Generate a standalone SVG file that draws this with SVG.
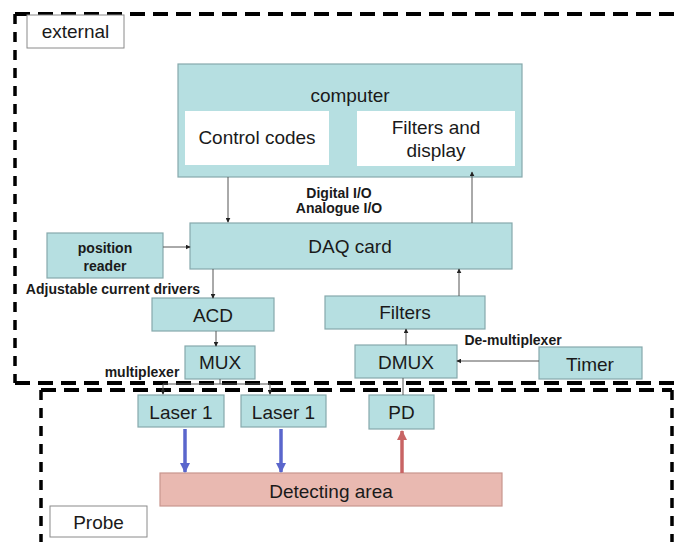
<svg xmlns="http://www.w3.org/2000/svg" width="678" height="542" viewBox="0 0 678 542">
<style>
.bg{fill:#ffffff}
.box{fill:#b6dfe1;stroke:#86a9ac;stroke-width:1.2}
.wbox{fill:#ffffff;stroke:none}
.lbl{fill:#ffffff;stroke:#8a8a8a;stroke-width:1}
.det{fill:#e9b9b1;stroke:#c8968e;stroke-width:1.2}
.t{font-family:"Liberation Sans",Arial,sans-serif;font-size:19px;fill:#1a1a1a;text-anchor:middle}
.b{font-family:"Liberation Sans",Arial,sans-serif;font-size:14px;font-weight:bold;fill:#1a1a1a;text-anchor:middle}
.dh{fill:none;stroke:#000;stroke-width:4;stroke-dasharray:15 8}
.dv{fill:none;stroke:#000;stroke-width:3.5;stroke-dasharray:10 8}
.c{fill:none;stroke:#555;stroke-width:1}
.blue{fill:none;stroke:#5a66cc;stroke-width:3.5}
.red{fill:none;stroke:#c86464;stroke-width:3.5}
</style>
<defs>
<marker id="ah" viewBox="0 0 8 8" refX="7" refY="4" markerWidth="5" markerHeight="5" markerUnits="userSpaceOnUse" orient="auto"><path d="M0,0 L8,4 L0,8 z" fill="#222"/></marker>
<marker id="ab" viewBox="0 0 10 10" refX="9" refY="5" markerWidth="3" markerHeight="3" orient="auto"><path d="M0,0 L10,5 L0,10 z" fill="#5a66cc"/></marker>
<marker id="ar" viewBox="0 0 10 10" refX="9" refY="5" markerWidth="3" markerHeight="3" orient="auto"><path d="M0,0 L10,5 L0,10 z" fill="#c86464"/></marker>
</defs>
<rect class="bg" x="0" y="0" width="678" height="542"/>

<g id="regions">
<path class="dh" d="M15,14 H678"/>
<path class="dv" d="M15,14 V383"/>
<path class="dh" d="M15,383 H678"/>
<path class="dh" d="M41,390 H672"/>
<path class="dv" d="M41,390 V542"/>
<path class="dv" d="M672,390 V542"/>
</g>

<g id="external-label"><rect class="lbl" x="27" y="15" width="97" height="33"/><text class="t" x="75.5" y="38">external</text></g>
<g id="probe-label"><rect class="lbl" x="50" y="506" width="97" height="31"/><text class="t" x="98.5" y="529">Probe</text></g>

<g id="computer">
<rect class="box" x="178" y="64" width="344" height="113"/>
<text class="t" x="350" y="102">computer</text>
<rect class="wbox" x="185" y="111" width="144" height="54"/>
<text class="t" x="257" y="144">Control codes</text>
<rect class="wbox" x="357" y="111" width="158" height="55"/>
<text class="t" x="436" y="134">Filters and</text>
<text class="t" x="436" y="157">display</text>
</g>

<g id="io-label"><text class="b" x="339" y="198">Digital I/O</text><text class="b" x="339" y="213">Analogue I/O</text></g>

<g id="daq"><rect class="box" x="190" y="223" width="322" height="46"/><text class="t" x="350" y="253">DAQ card</text></g>
<g id="position-reader"><rect class="box" x="47" y="233" width="116" height="45"/><text class="b" x="105" y="253">position</text><text class="b" x="105" y="271">reader</text></g>
<g id="acd-label"><text class="b" x="113" y="294">Adjustable current drivers</text></g>
<g id="acd"><rect class="box" x="152" y="298" width="122" height="33"/><text class="t" x="213" y="322">ACD</text></g>
<g id="mux"><rect class="box" x="185" y="346" width="70" height="33"/><text class="t" x="220" y="369">MUX</text></g>
<g id="mux-label"><text class="b" x="142" y="377">multiplexer</text></g>
<g id="filters"><rect class="box" x="325" y="296" width="160" height="33"/><text class="t" x="405" y="319">Filters</text></g>
<g id="dmux"><rect class="box" x="355" y="345" width="102" height="33"/><text class="t" x="406" y="369">DMUX</text></g>
<g id="dmux-label"><text class="b" x="513" y="345">De-multiplexer</text></g>
<g id="timer"><rect class="box" x="539" y="347" width="103" height="32"/><text class="t" x="590" y="371">Timer</text></g>
<g id="laser1a"><rect class="box" x="138" y="395" width="86" height="32"/><text class="t" x="181" y="419">Laser 1</text></g>
<g id="laser1b"><rect class="box" x="241" y="395" width="85" height="32"/><text class="t" x="283.5" y="419">Laser 1</text></g>
<g id="pd"><rect class="box" x="369" y="395" width="65" height="34"/><text class="t" x="401.5" y="419">PD</text></g>
<g id="detecting-area"><rect class="det" x="160" y="473" width="342" height="33"/><text class="t" x="331" y="498">Detecting area</text></g>

<g id="connectors">
<path class="c" d="M228,177 V222" marker-end="url(#ah)"/>
<path class="c" d="M163,247 H190" marker-end="url(#ah)"/>
<path class="c" d="M213,269 V298" marker-end="url(#ah)"/>
<path class="c" d="M216,331 V346" marker-end="url(#ah)"/>
<path class="c" d="M220,379 V384"/>
<path class="c" d="M163,384 H270"/>
<path class="c" d="M163,384 V394" marker-end="url(#ah)"/>
<path class="c" d="M270,384 V394" marker-end="url(#ah)"/>
<path class="c" d="M539,361 H457" marker-end="url(#ah)"/>
<path class="c" d="M406,345 V329" marker-end="url(#ah)"/>
<path class="c" d="M459,296 V269" marker-end="url(#ah)"/>
<path class="c" d="M472,223 V172" marker-end="url(#ah)"/>
<path class="c" d="M403,395 V378"/>
<path class="blue" d="M185,429 V472" marker-end="url(#ab)"/>
<path class="blue" d="M281,429 V472" marker-end="url(#ab)"/>
<path class="red" d="M402,473 V431" marker-end="url(#ar)"/>
</g>
</svg>
